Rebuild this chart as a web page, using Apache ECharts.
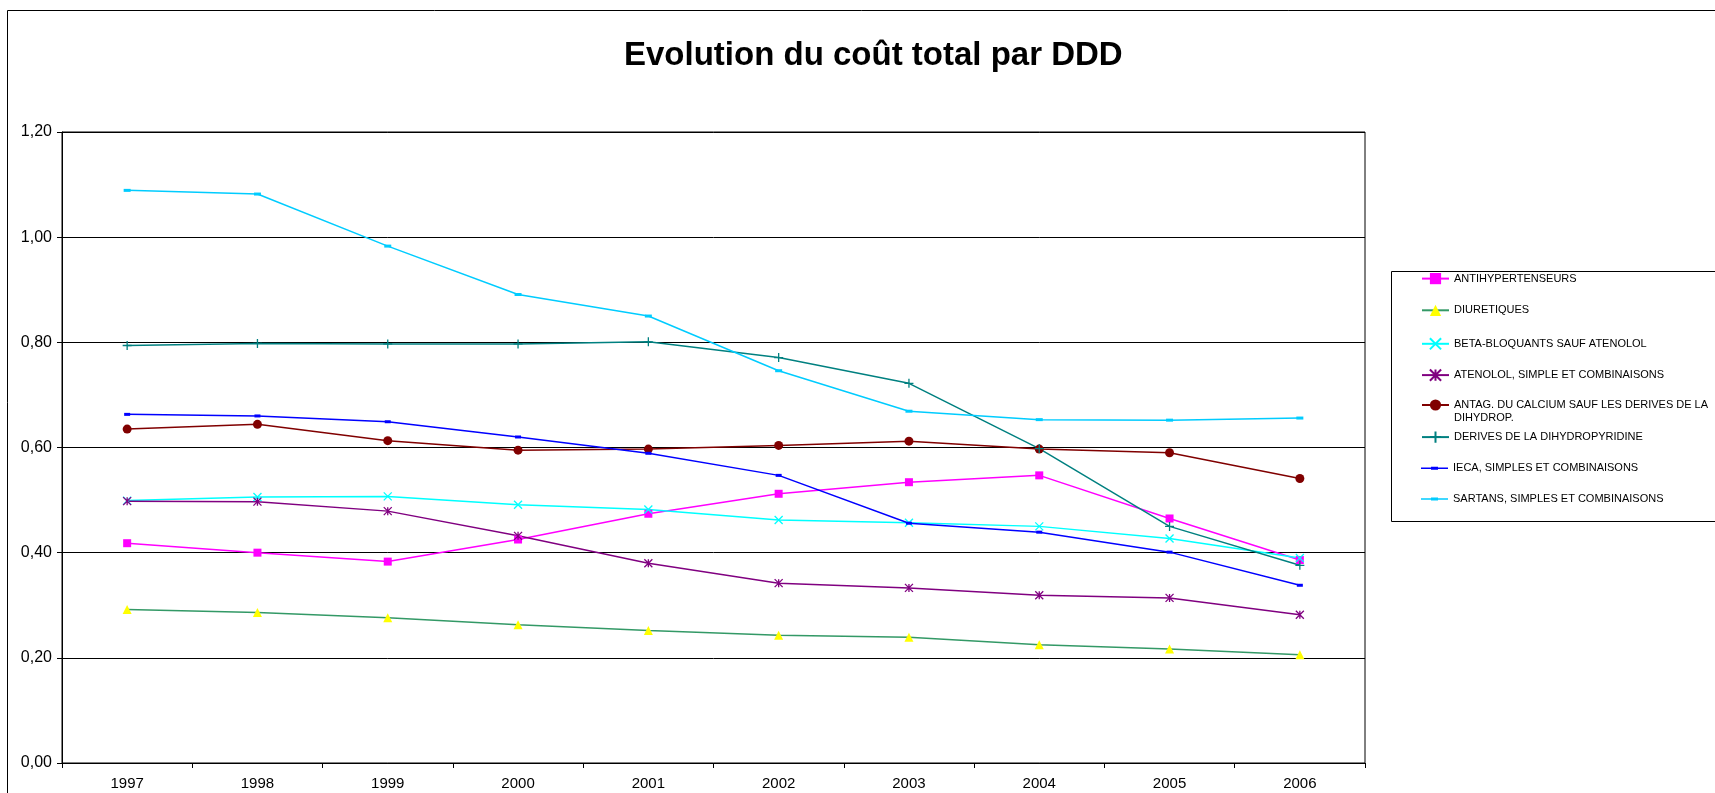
<!DOCTYPE html>
<html>
<head>
<meta charset="utf-8">
<title>Evolution du coût total par DDD</title>
<script src="https://cdn.jsdelivr.net/npm/echarts@6/dist/echarts.min.js"></script>
<style>
  html, body { margin: 0; padding: 0; background: #fff; }
  #chart { width: 1715px; height: 793px; }
</style>
</head>
<body>
<div id="chart"></div>
<script>
// données
var years = ['1997', '1998', '1999', '2000', '2001', '2002', '2003', '2004', '2005', '2006'];
var yTicks = [0, 0.2, 0.4, 0.6, 0.8, 1.0, 1.2];

var antihypertenseurs = [0.418, 0.400, 0.383, 0.425, 0.474, 0.512, 0.534, 0.547, 0.465, 0.386];
var diuretiques = [0.292, 0.286, 0.276, 0.263, 0.252, 0.243, 0.239, 0.225, 0.217, 0.206];
var betaBloquants = [0.499, 0.506, 0.507, 0.491, 0.482, 0.462, 0.457, 0.450, 0.427, 0.390];
var atenolol = [0.498, 0.497, 0.479, 0.432, 0.380, 0.342, 0.333, 0.319, 0.314, 0.282];
var antagCalcium = [0.635, 0.644, 0.613, 0.595, 0.597, 0.604, 0.612, 0.597, 0.590, 0.541];
var derivesDihydro = [0.794, 0.798, 0.797, 0.797, 0.801, 0.771, 0.722, 0.598, 0.450, 0.376];
var ieca = [0.663, 0.660, 0.649, 0.620, 0.589, 0.547, 0.456, 0.439, 0.401, 0.338];
var sartans = [1.089, 1.082, 0.983, 0.891, 0.850, 0.746, 0.669, 0.653, 0.652, 0.656];

var FONT = '"Liberation Sans", Arial, sans-serif';

// marqueurs façon Excel
var SYM_X = 'path://M0,0L10,10M10,0L0,10';
var SYM_STAR = 'path://M0,0L10,10M10,0L0,10M5,0L5,10';
var SYM_PLUS = 'path://M5,0L5,10M0,5L10,5';
// icône de légende : trait + petit tiret (pour IECA / SARTANS)
var ICON_DASH = 'path://M0,0L0.01,0Z M27,14L26.99,14Z M0,6.25L27,6.25L27,7.75L0,7.75Z M10,5.5L17,5.5L17,8.5L10,8.5Z';

function line(name, data, lineColor, symbol, size, fill, stroke) {
  return {
    name: name,
    type: 'line',
    data: data,
    symbol: symbol,
    symbolSize: size,
    showSymbol: true,
    lineStyle: { color: lineColor, width: 1.5 },
    itemStyle: {
      color: fill,
      borderColor: stroke || fill,
      borderWidth: stroke ? 1.3 : 0
    },
    emphasis: { disabled: true }
  };
}

var series = [
  line('ANTIHYPERTENSEURS', antihypertenseurs, '#FF00FF', 'rect', 8, '#FF00FF'),
  line('DIURETIQUES', diuretiques, '#339966', 'triangle', 9, '#FFFF00'),
  line('BETA-BLOQUANTS SAUF ATENOLOL', betaBloquants, '#00FFFF', SYM_X, 8, 'none', '#00FFFF'),
  line('ATENOLOL, SIMPLE ET COMBINAISONS', atenolol, '#800080', SYM_STAR, 8, 'none', '#800080'),
  line('ANTAG. DU CALCIUM SAUF LES DERIVES DE LA DIHYDROP.', antagCalcium, '#800000', 'circle', 9, '#800000'),
  line('DERIVES DE LA DIHYDROPYRIDINE', derivesDihydro, '#008080', SYM_PLUS, 9, 'none', '#008080'),
  line('IECA, SIMPLES ET COMBINAISONS', ieca, '#0000FF', 'rect', [6, 3], '#0000FF'),
  line('SARTANS, SIMPLES ET COMBINAISONS', sartans, '#00CCFF', 'rect', [7, 3], '#00CCFF')
];

// une légende par série pour caler chaque ligne (le libellé ANTAG passe sur 2 lignes)
var legendCenters = [280, 311.7, 342.7, 374, 405, 436, 468.3, 499];
var legends = series.map(function (s, i) {
  var isAntag = i === 4;
  var item = { name: s.name };
  if (i >= 6) item.icon = ICON_DASH;
  return {
    data: [item],
    orient: 'vertical',
    left: 1421,
    top: isAntag ? legendCenters[i] - 19.5 : legendCenters[i] - 7,
    padding: 0,
    itemWidth: 27,
    itemHeight: 14,
    itemGap: 4,
    // ligne vide en tête : la 1re ligne du libellé reste en face du symbole
    formatter: isAntag ? function () { return ' \nANTAG. DU CALCIUM SAUF LES DERIVES DE LA\nDIHYDROP.'; } : null,
    textStyle: isAntag
      ? { fontFamily: FONT, fontSize: 11, color: '#000', lineHeight: 13 }
      : { fontFamily: FONT, fontSize: 11, color: '#000' }
  };
});

var chart = echarts.init(document.getElementById('chart'), null, { renderer: 'canvas' });

chart.setOption({
  animation: false,
  backgroundColor: '#fff',
  textStyle: { fontFamily: FONT },
  title: {
    text: 'Evolution du coût total par DDD',
    left: 619,
    top: 34,
    textStyle: { fontFamily: FONT, fontSize: 33, fontWeight: 'bold', color: '#000' }
  },
  graphic: [
    // cadre de la zone de graphique
    { type: 'rect', shape: { x: 7.5, y: 10.5, width: 1720, height: 800 },
      style: { fill: 'none', stroke: '#000', lineWidth: 1 }, silent: true },
    // cadre de la légende
    { type: 'rect', shape: { x: 1391.5, y: 271.5, width: 340, height: 250 },
      style: { fill: 'none', stroke: '#000', lineWidth: 1 }, silent: true }
  ],
  legend: legends,
  grid: {
    left: 62,
    top: 132,
    right: 350,
    bottom: 30,
    show: true,
    borderColor: '#000',
    borderWidth: 1,
    backgroundColor: 'transparent'
  },
  xAxis: {
    type: 'category',
    data: years,
    boundaryGap: true,
    axisLine: { lineStyle: { color: '#000', width: 1 } },
    axisTick: { show: true, interval: 0, length: 5, lineStyle: { color: '#000' } },
    axisLabel: { color: '#000', fontSize: 15, margin: 13, fontFamily: FONT }
  },
  yAxis: {
    type: 'value',
    min: yTicks[0],
    max: yTicks[yTicks.length - 1],
    interval: 0.2,
    axisLine: { show: true, lineStyle: { color: '#000', width: 1 } },
    axisTick: { show: true, length: 5, lineStyle: { color: '#000' } },
    axisLabel: {
      color: '#000',
      fontSize: 16,
      margin: 10,
      fontFamily: FONT,
      formatter: function (v) { return v.toFixed(2).replace('.', ','); }
    },
    splitLine: { show: true, lineStyle: { color: '#000', width: 1 } }
  },
  series: series
});
</script>
</body>
</html>
